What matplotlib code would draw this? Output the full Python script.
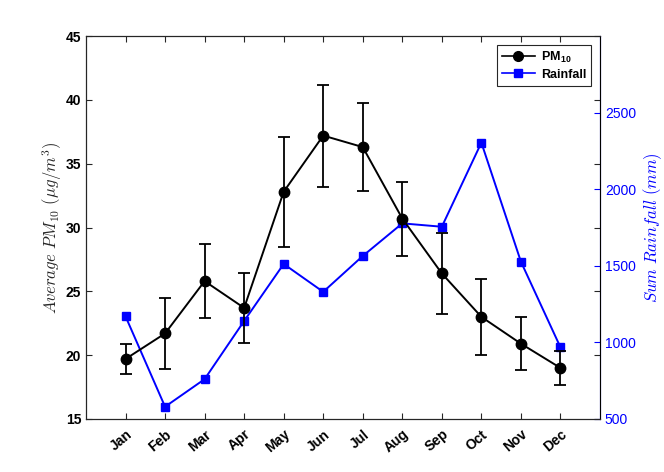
import numpy as np
import matplotlib
matplotlib.use("Agg")
import matplotlib.pyplot as plt
import matplotlib.transforms as mtransforms
from matplotlib.lines import Line2D

plt.rcParams["font.family"] = ["Liberation Sans", "DejaVu Sans"]
plt.rcParams["mathtext.fontset"] = "cm"

months   = ["Jan", "Feb", "Mar", "Apr", "May", "Jun",
            "Jul", "Aug", "Sep", "Oct", "Nov", "Dec"]
pm10     = [19.7, 21.7, 25.8, 23.7, 32.8, 37.2, 36.3, 30.7, 26.4, 23.0, 20.9, 19.0]
pm10_err = [1.2, 2.75, 2.9, 2.75, 4.3, 4.0, 3.45, 2.9, 3.15, 3.0, 2.1, 1.35]
rain     = [1170, 580, 760, 1140, 1512, 1330, 1564, 1777, 1755, 2304, 1527, 968]

x = np.arange(1, len(months) + 1)
blue = "#0000ff"
axc  = "#262626"

fig = plt.figure(figsize=(6.64, 4.72), dpi=100)
ax = fig.add_axes([0.1295, 0.1123, 0.7741, 0.8114])
ax2 = ax.twinx()

# ── left axis: PM10 with error bars ───────────────────────────────────────────
ax.errorbar(x, pm10, yerr=pm10_err, color="black", lw=1.4, marker="o", ms=7.5,
            capsize=4, capthick=1.3, elinewidth=1.3, zorder=3)
ax.set_xlim(0, 13)
ax.set_ylim(15, 45)
ax.set_yticks(np.arange(15, 46, 5))
ax.set_xticks(x)
ax.set_xticklabels(months, rotation=40, ha="right", rotation_mode="anchor",
                   fontweight="bold", fontsize=10)
shift = mtransforms.ScaledTranslation(6 / 100, 0, fig.dpi_scale_trans)
for lbl in ax.get_xticklabels():
    lbl.set_transform(lbl.get_transform() + shift)
for lbl in ax.get_yticklabels():
    lbl.set_fontweight("bold")
ax.tick_params(axis="both", direction="in", length=4, colors=axc,
               labelcolor="black", labelsize=10, top=True, right=True)
ax.tick_params(axis="x", pad=6)
ax.set_ylabel(r"$Average\ PM_{10}\ (\mu g/m^3)$", fontsize=12, color=axc,
              labelpad=1)
for s in ["left", "bottom", "top"]:
    ax.spines[s].set_color(axc)

# ── right axis: rainfall ──────────────────────────────────────────────────────
ax2.plot(x, rain, color=blue, lw=1.4, marker="s", ms=6, zorder=2)
ax2.set_ylim(500, 3000)
ax2.set_yticks(np.arange(500, 2501, 500))
ax2.tick_params(axis="y", direction="in", length=4, colors=blue, labelsize=10)
ax2.spines["right"].set_color(blue)
ax2.set_ylabel(r"$Sum\ Rainfall\ (mm)$", fontsize=12, color=blue)

ax.set_zorder(ax2.get_zorder() + 1)
ax.patch.set_visible(False)

handles = [Line2D([], [], color="black", lw=1.2, marker="o", ms=7),
           Line2D([], [], color=blue, lw=1.2, marker="s", ms=5.5)]
leg = ax.legend(handles, ["PM$_{\\mathregular{10}}$", "Rainfall"],
                loc="upper right", fancybox=False, framealpha=1,
                edgecolor=axc, prop={"weight": "bold", "size": 9},
                borderaxespad=0.7, handlelength=2.6, handletextpad=0.5,
                borderpad=0.4, labelspacing=0.3)
leg.get_frame().set_linewidth(0.8)

fig.savefig("out.png", dpi=100)
